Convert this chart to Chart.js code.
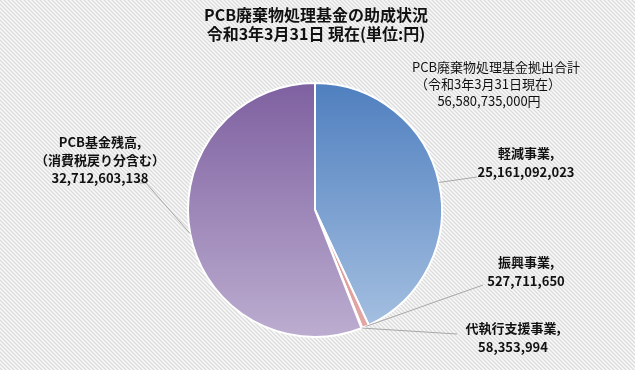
<!DOCTYPE html>
<html lang="ja">
<head>
  <meta charset="UTF-8" />
  <title>PCB廃棄物処理基金の助成状況</title>
  <script src="https://cdn.jsdelivr.net/npm/chart.js"></script>
  <style>
    * { margin: 0; padding: 0; box-sizing: border-box; }
    body { width: 635px; height: 370px; overflow: hidden; background: #f4f4f4; }
    canvas { display: block; }
  </style>
</head>
<body>
  <canvas id="pieChart" width="635" height="370"></canvas>

  <script>
    // data
    const categories = ['軽減事業', '振興事業', '代執行支援事業', 'PCB基金残高'];
    const amounts = [25161092023, 527711650, 58353994, 32712603138];
    const notes = ['', '', '', '（消費税戻り分含む）'];
    const titleLines = ['PCB廃棄物処理基金の助成状況', '令和3年3月31日 現在(単位:円)'];
    const totalLines = ['PCB廃棄物処理基金拠出合計', '（令和3年3月31日現在）', '56,580,735,000円'];

    // colour stops per slice: top, bottom
    const sliceColors = [
      ['#4f7fbf', '#a8c2e2'],
      ['#d27f7c', '#e3a9a7'],
      ['#9bbb59', '#b9d08a'],
      ['#7e60a0', '#bcadd0']
    ];

    // where each slice label sits, plus the end of its leader line
    const labelSpots = [
      { x: 526, y: 153, lx: 477, ly: 177 },
      { x: 526, y: 262, lx: 483, ly: 285 },
      { x: 513, y: 328, lx: 457, ly: 334 },
      { x: 100, y: 142, lx: 146, ly: 183 }
    ];

    const FONT = '"Noto Sans CJK JP", "Noto Sans", sans-serif';
    const fmt = n => n.toLocaleString('en-US');

    function makeStripes() {
      const c = document.createElement('canvas');
      c.width = 4; c.height = 4;
      const g = c.getContext('2d');
      g.fillStyle = '#fafafa';
      g.fillRect(0, 0, 4, 4);
      g.strokeStyle = '#dcdcdc';
      g.lineWidth = 1.4;
      g.beginPath();
      g.moveTo(0, 0); g.lineTo(4, 4);
      g.moveTo(-2, 2); g.lineTo(2, 6);
      g.moveTo(2, -2); g.lineTo(6, 2);
      g.stroke();
      return c;
    }

    const backdrop = {
      id: 'backdrop',
      beforeDraw(chart) {
        const ctx = chart.ctx;
        ctx.save();
        ctx.fillStyle = ctx.createPattern(makeStripes(), 'repeat');
        ctx.fillRect(0, 0, chart.width, chart.height);
        ctx.restore();
      }
    };

    const annotations = {
      id: 'annotations',
      afterDraw(chart) {
        const ctx = chart.ctx;
        const arcs = chart.getDatasetMeta(0).data;
        ctx.save();
        ctx.textAlign = 'center';
        ctx.textBaseline = 'middle';
        ctx.fillStyle = '#111111';

        // title
        ctx.font = 'bold 16px ' + FONT;
        ctx.fillText(titleLines[0], 316, 15);
        ctx.fillText(titleLines[1], 316, 34);

        // total box text
        ctx.font = '13px ' + FONT;
        ctx.fillText(totalLines[0], 496, 67);
        ctx.fillText(totalLines[1], 488, 84);
        ctx.fillText(totalLines[2], 489, 101);

        // leader lines from slice mid angle
        ctx.strokeStyle = '#a8a8a8';
        ctx.lineWidth = 1;
        arcs.forEach((arc, i) => {
          const p = arc.getProps(['x', 'y', 'startAngle', 'endAngle', 'outerRadius'], true);
          const mid = (p.startAngle + p.endAngle) / 2;
          const sx = p.x + Math.cos(mid) * p.outerRadius;
          const sy = p.y + Math.sin(mid) * p.outerRadius;
          const s = labelSpots[i];
          ctx.beginPath();
          ctx.moveTo(sx, sy);
          ctx.lineTo(s.lx, s.ly);
          if (i === 3) ctx.lineTo(s.lx - 6, s.ly);
          ctx.stroke();
        });

        // slice labels
        ctx.font = 'bold 13px ' + FONT;
        categories.forEach((name, i) => {
          const s = labelSpots[i];
          if (notes[i]) {
            ctx.fillText(name + ',', s.x, s.y);
            ctx.fillText(notes[i], s.x, s.y + 18);
            ctx.fillText(fmt(amounts[i]), s.x, s.y + 36);
          } else {
            ctx.fillText(name + ',', s.x, s.y);
            ctx.fillText(fmt(amounts[i]), s.x, s.y + 19);
          }
        });
        ctx.restore();
      }
    };

    function sliceFill(context) {
      const area = context.chart.chartArea;
      if (!area) return sliceColors[context.dataIndex][0];
      const stops = sliceColors[context.dataIndex];
      const grad = context.chart.ctx.createLinearGradient(0, area.top, 0, area.bottom);
      grad.addColorStop(0, stops[0]);
      grad.addColorStop(1, stops[1]);
      return grad;
    }

    new Chart(document.getElementById('pieChart'), {
      type: 'pie',
      data: {
        labels: categories,
        datasets: [{
          data: amounts,
          backgroundColor: sliceFill,
          borderColor: '#ffffff',
          borderWidth: 2
        }]
      },
      options: {
        responsive: false,
        animation: false,
        layout: { padding: { top: 82, bottom: 32, left: 0, right: 5 } },
        plugins: {
          legend: { display: false },
          tooltip: { enabled: false },
          title: { display: false }
        }
      },
      plugins: [backdrop, annotations]
    });
  </script>
</body>
</html>
